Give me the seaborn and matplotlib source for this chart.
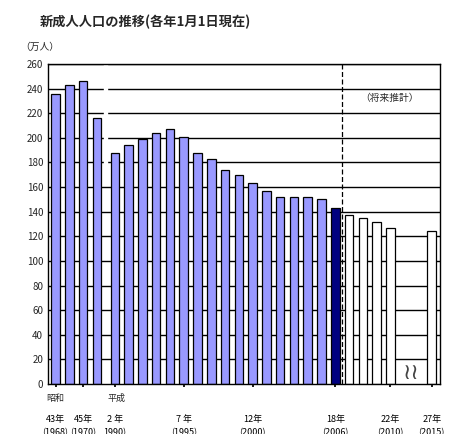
import matplotlib
matplotlib.use("Agg")
import matplotlib.pyplot as plt
import seaborn as sns
import pandas as pd
import numpy as np

sns.set_theme(style="white")
plt.rcParams['font.family'] = ['Noto Sans CJK JP', 'DejaVu Sans']

years = ["S43", "S44", "S45", "S46", "H2", "H3", "H4", "H5", "H6", "H7", "H8", "H9", "H10",
         "H11", "H12", "H13", "H14", "H15", "H16", "H17", "H18", "H19", "H20", "H21", "H22", "H27"]
values = [236, 243, 246, 216, 188, 194, 199, 204, 207, 201, 188, 183, 174, 170, 163, 157,
          152, 152, 152, 150, 143, 137, 135, 132, 127, 124]
kind = ["past"] * 20 + ["now"] + ["future"] * 5
slots = [0, 1, 2, 3] + [4.3 + i for i in range(21)] + [27.3]
tick_labels = ["43年\n(1968)", "45年\n(1970)", "2 年\n1990)", "7 年\n(1995)", "12年\n(2000)",
               "18年\n(2006)", "22年\n(2010)", "27年\n(2015)"]
tick_idx = [0, 2, 4, 9, 14, 20, 24, 25]

df = pd.DataFrame({"year": years, "value": values, "kind": kind, "x": slots})

fig = plt.figure(figsize=(4.59, 4.34), dpi=100)
ax = fig.add_axes([48/459, 50/434, 392/459, 320/434])
ax.set_xlim(-0.55, 27.9)
ax.set_ylim(0, 260)
ax.set_yticks(range(0, 261, 20))
for y in range(20, 261, 20):
    ax.axhline(y, color="black", lw=1, zorder=0)

colors = {"past": "#9999FF", "now": "#000080", "future": "white"}
for k, g in df.groupby("kind"):
    ax.bar(g["x"], g["value"], width=0.62, color=colors[k], edgecolor="black", lw=0.9, zorder=2)

ax.axvspan(3.55, 3.75, ymin=0.66, ymax=1.0, color="white", zorder=1)
ax.axvline(20.8, color="black", ls=(0, (4, 2)), lw=0.9, zorder=3)
ax.text(24.2, 232, "（将来推計）", ha="center", va="center", fontsize=7)
ax.text(25.8, 0, "≀≀", ha="center", va="bottom", fontsize=16, color="#444444")

ax.set_xticks([slots[i] for i in tick_idx])
ax.set_xticklabels(tick_labels, fontsize=6.5, linespacing=1.6)
ax.tick_params(axis="x", length=4, direction="inout", pad=20, bottom=True, colors="black")
ax.tick_params(axis="y", labelsize=7, length=0)
for s in ax.spines.values():
    s.set_color("black"); s.set_linewidth(1)
ax.set_xlabel(""); ax.set_ylabel("")
fig.text(55/459, 1 - 398/434, "昭和", fontsize=6.5, ha="center", va="center")
fig.text(116/459, 1 - 398/434, "平成", fontsize=6.5, ha="center", va="center")
fig.text(40/459, 1 - 47/434, "（万人）", fontsize=7, ha="center", va="center")
fig.text(40/459, 1 - 22/434, "新成人人口の推移(各年1月1日現在)", fontsize=9.5,
         fontweight="bold", ha="left", va="center")
fig.savefig("out.png", dpi=100, facecolor="white")
